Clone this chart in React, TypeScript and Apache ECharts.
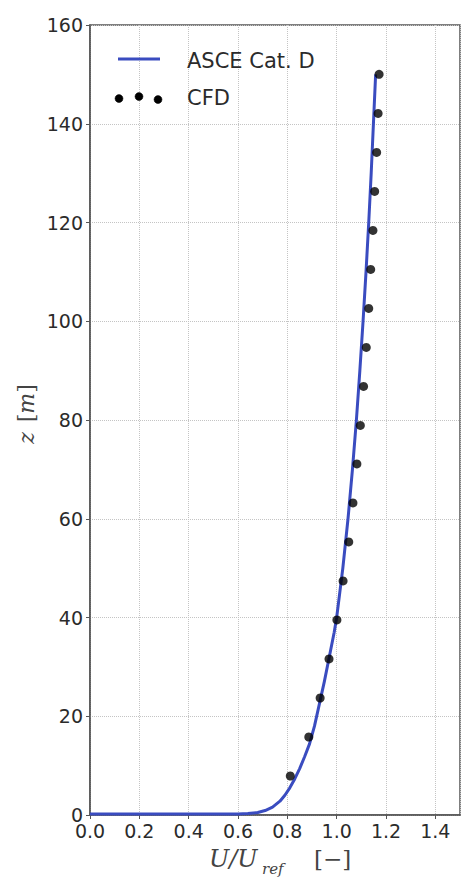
import React, { useEffect, useRef } from "react";
import * as echarts from "echarts";

// ASCE Cat. D profile (U/Uref, z)
const asceU = [0.0, 0.6, 0.64, 0.68, 0.71, 0.74, 0.77, 0.79, 0.81, 0.83, 0.85, 0.87, 0.89, 0.91, 0.93, 0.95, 0.97, 0.99, 1.0, 1.025, 1.046, 1.064, 1.08, 1.094, 1.107, 1.119, 1.13, 1.14, 1.149, 1.158];
const asceZ = [0.2, 0.2, 0.3, 0.5, 0.9, 1.6, 2.8, 4.0, 5.5, 7.3, 9.4, 11.8, 14.4, 18.0, 22.5, 27.0, 32.0, 37.0, 40.0, 50, 60, 70, 80, 90, 100, 110, 120, 130, 140, 150];

// CFD points (U/Uref, z)
const cfdU = [0.812, 0.887, 0.933, 0.969, 1.001, 1.026, 1.049, 1.066, 1.082, 1.096, 1.109, 1.12, 1.13, 1.138, 1.147, 1.154, 1.162, 1.168, 1.172];
const cfdZ = [7.9, 15.8, 23.7, 31.6, 39.5, 47.4, 55.3, 63.2, 71.1, 78.9, 86.8, 94.7, 102.6, 110.5, 118.4, 126.3, 134.2, 142.1, 150.0];

const xTicks = { min: 0, max: 1.5, interval: 0.2 };
const yTicks = { min: 0, max: 160, interval: 20 };

const seriesNames = ["ASCE Cat. D", "CFD"];

const BLUE = "#3a4cc0";
const TXT = "#2b2b2b";

export default function App() {
  const ref = useRef<HTMLDivElement>(null);
  useEffect(() => {
    if (!ref.current) return;
    const chart = echarts.init(ref.current, null, { renderer: "svg" });
    const splitLine = { show: true, lineStyle: { type: "dotted" as const, color: "#c4c4c4", width: 1 } };
    chart.setOption({
      animation: false,
      backgroundColor: "#ffffff",
      grid: { left: 90, top: 25, width: 370, height: 790, show: true, borderColor: "#555", borderWidth: 1.5, backgroundColor: "transparent" },
      xAxis: {
        type: "value",
        min: xTicks.min,
        max: xTicks.max,
        interval: xTicks.interval,
        axisLine: { show: true, lineStyle: { color: "#555", width: 1.5 } },
        axisTick: { show: true, length: 4, lineStyle: { color: "#555" } },
        axisLabel: {
          showMaxLabel: false,
          margin: 6,
          fontSize: 19,
          fontFamily: "DejaVu Sans",
          color: TXT,
          formatter: (v: number) => v.toFixed(1),
        },
        splitLine,
      },
      yAxis: {
        type: "value",
        min: yTicks.min,
        max: yTicks.max,
        interval: yTicks.interval,
        axisLine: { show: true, lineStyle: { color: "#555", width: 1.5 } },
        axisTick: { show: true, length: 4, lineStyle: { color: "#555" } },
        axisLabel: {
          margin: 7,
          fontSize: 19,
          fontFamily: "DejaVu Sans",
          color: TXT,
          formatter: (v: number) => String(Math.round(v)),
        },
        splitLine,
      },
      series: [
        {
          name: seriesNames[0],
          type: "line",
          data: asceU.map((u, i) => [u, asceZ[i]]),
          showSymbol: false,
          symbol: "none",
          lineStyle: { color: BLUE, width: 3, join: "round" },
          z: 2,
        },
        {
          name: seriesNames[1],
          type: "scatter",
          data: cfdU.map((u, i) => [u, cfdZ[i]]),
          symbol: "circle",
          symbolSize: 9,
          itemStyle: { color: "#000000" },
          z: 3,
        },
      ],
      graphic: [
        // legend
        { type: "line", z: 100, shape: { x1: 118, y1: 59, x2: 160, y2: 59 }, style: { stroke: BLUE, lineWidth: 3 } },
        { type: "text", z: 100, x: 187, y: 61, style: { text: seriesNames[0], font: "21px 'DejaVu Sans'", fill: TXT, verticalAlign: "middle" } },
        { type: "circle", z: 100, shape: { cx: 119, cy: 98.5, r: 4 }, style: { fill: "#000", stroke: "#000", lineWidth: 0.5 } },
        { type: "circle", z: 100, shape: { cx: 139, cy: 96.5, r: 4 }, style: { fill: "#000", stroke: "#000", lineWidth: 0.5 } },
        { type: "circle", z: 100, shape: { cx: 158, cy: 99.5, r: 4 }, style: { fill: "#000", stroke: "#000", lineWidth: 0.5 } },
        { type: "text", z: 100, x: 187, y: 97.5, style: { text: seriesNames[1], font: "21px 'DejaVu Sans'", fill: TXT, verticalAlign: "middle" } },
        // y axis name
        {
          type: "text",
          x: 26,
          y: 414,
          rotation: Math.PI / 2,
          style: {
            text: "{i|z}   {n|[}{i|m}{n|]}",
            align: "center",
            verticalAlign: "middle",
            fill: "#444",
            rich: {
              i: { fontFamily: "DejaVu Serif", fontStyle: "italic", fontSize: 22, fill: "#444" },
              n: { fontFamily: "DejaVu Serif", fontSize: 22, fill: "#444" },
            },
          },
        },
        // x axis name
        { type: "text", x: 209, y: 859, style: { text: "U/U", font: "italic 24px 'DejaVu Serif'", fill: "#444", verticalAlign: "middle" } },
        { type: "text", x: 262, y: 869, style: { text: "ref", font: "italic 15px 'DejaVu Serif'", fill: "#444", verticalAlign: "middle" } },
        { type: "text", x: 314, y: 859, style: { text: "[−]", font: "23px 'DejaVu Serif'", fill: "#444", verticalAlign: "middle" } },
      ],
    });
    return () => chart.dispose();
  }, []);
  return <div ref={ref} style={{ position: "fixed", left: 0, top: 0, width: 462, height: 879 }} />;
}
